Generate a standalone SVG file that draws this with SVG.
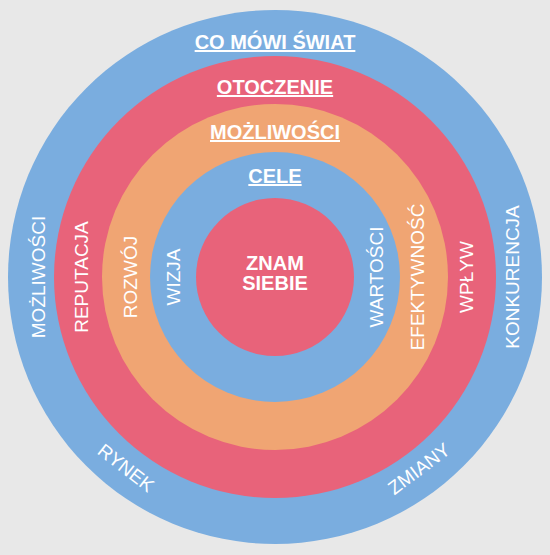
<svg xmlns="http://www.w3.org/2000/svg" width="550" height="555" viewBox="0 0 550 555">
<style>
.blue{fill:#7aaddf}
.red{fill:#e8637a}
.orange{fill:#f0a573}
text{font-family:"Liberation Sans",Arial,sans-serif;fill:#ffffff}
.head{font-size:20px;font-weight:bold;text-anchor:middle;text-decoration:underline}
.side{font-size:19px;text-anchor:middle}
.core{font-size:20px;font-weight:bold;text-anchor:middle}
</style>
<rect width="550" height="555" fill="#e8e8e8"/>
<g id="ring-swiat">
<circle class="blue" cx="275" cy="277" r="267"/>
<text class="head" x="275" y="49">CO MÓWI ŚWIAT</text>
<text class="side" transform="translate(44.5,277) rotate(-90)">MOŻLIWOŚCI</text>
<text class="side" transform="translate(519,277) rotate(-90)">KONKURENCJA</text>
<text class="side" transform="translate(122,473) rotate(38)">RYNEK</text>
<text class="side" transform="translate(423,474) rotate(-37)">ZMIANY</text>
</g>
<g id="ring-otoczenie">
<circle class="red" cx="275" cy="277" r="221"/>
<text class="head" x="275" y="94">OTOCZENIE</text>
<text class="side" transform="translate(88,277) rotate(-90)">REPUTACJA</text>
<text class="side" transform="translate(473,277) rotate(-90)">WPŁYW</text>
</g>
<g id="ring-mozliwosci">
<circle class="orange" cx="275" cy="277" r="173"/>
<text class="head" x="275" y="139">MOŻLIWOŚCI</text>
<text class="side" transform="translate(136.5,277) rotate(-90)">ROZWÓJ</text>
<text class="side" transform="translate(424,277) rotate(-90)">EFEKTYWNOŚĆ</text>
</g>
<g id="ring-cele">
<circle class="blue" cx="275" cy="277" r="125"/>
<text class="head" x="275" y="183">CELE</text>
<text class="side" transform="translate(180,277) rotate(-90)">WIZJA</text>
<text class="side" transform="translate(383,277) rotate(-90)">WARTOŚCI</text>
</g>
<g id="core">
<circle class="red" cx="275" cy="277" r="79"/>
<text class="core" x="275" y="270">ZNAM</text>
<text class="core" x="275" y="290">SIEBIE</text>
</g>
<g id="connectors"/>
</svg>
